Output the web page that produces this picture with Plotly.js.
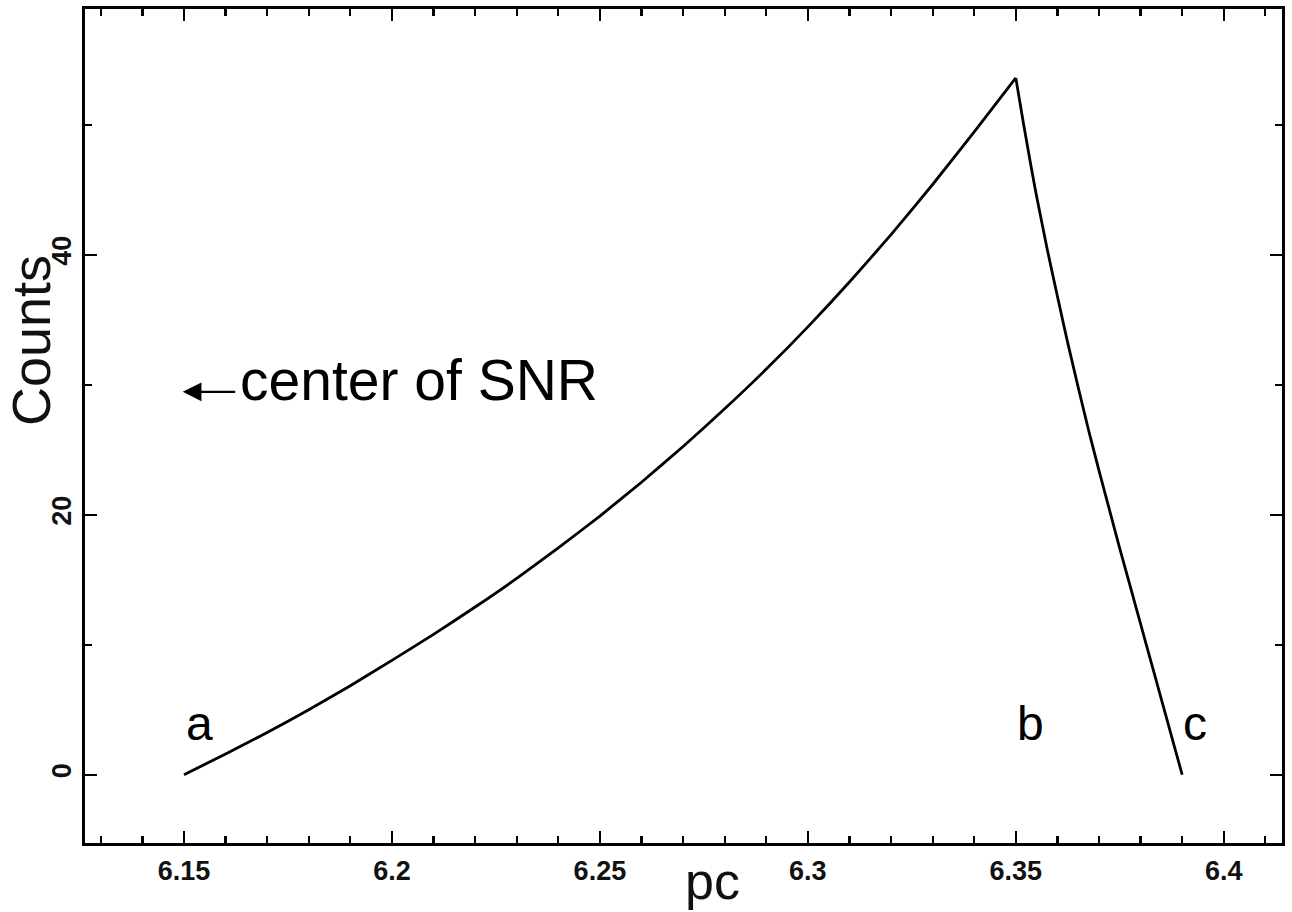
<!DOCTYPE html>
<html>
<head>
<meta charset="utf-8">
<script src="https://cdn.plot.ly/plotly-3.0.1.min.js"></script>
<style>html,body{margin:0;padding:0;background:#fff;}#chart{width:1292px;height:912px;}</style>
</head>
<body>
<div id="chart"></div>
<script>
// Profile data: rising part (a -> b) and falling part (b -> c)
const risePc = [6.15, 6.16, 6.17, 6.18, 6.19, 6.20, 6.21, 6.22, 6.23, 6.24, 6.25,
                6.26, 6.27, 6.28, 6.29, 6.30, 6.31, 6.32, 6.33, 6.34, 6.35];
const riseCounts = [0, 1.6, 3.25, 5.0, 6.85, 8.8, 10.8, 12.9, 15.1, 17.45, 19.9,
                    22.5, 25.25, 28.15, 31.2, 34.45, 37.9, 41.55, 45.4, 49.45, 53.6];
const fallPc = [6.35, 6.351, 6.352, 6.353, 6.354, 6.355, 6.3575, 6.36, 6.3625, 6.365,
                6.3675, 6.37, 6.3725, 6.375, 6.3775, 6.38, 6.3825, 6.385, 6.3875, 6.39];
const fallCounts = [53.6, 51.7, 49.8, 48.0, 46.2, 44.5, 40.5, 36.8, 33.2, 29.8,
                    26.5, 23.4, 20.4, 17.4, 14.5, 11.6, 8.7, 5.8, 2.9, 0];
const pointLabels = ['a', 'b', 'c'];
const pointLabelX = [6.1538, 6.3536, 6.3930];
const pointLabelY = [3.95, 3.95, 3.95];
const noteText = 'center of SNR';
const xTitle = 'pc';
const yTitle = 'Counts';

const FONT = 'Liberation Sans, Arial, Helvetica, sans-serif';

const lineStyle = {color: '#000', width: 2.8, shape: 'spline', smoothing: 0.5};
const traces = [
  {x: risePc, y: riseCounts, type: 'scatter', mode: 'lines', line: lineStyle, hoverinfo: 'skip'},
  {x: fallPc, y: fallCounts, type: 'scatter', mode: 'lines', line: lineStyle, hoverinfo: 'skip'}
];

const annotations = [];
for (let i = 0; i < pointLabels.length; i++) {
  annotations.push({
    x: pointLabelX[i], y: pointLabelY[i], xref: 'x', yref: 'y',
    text: pointLabels[i], showarrow: false,
    xanchor: 'center', yanchor: 'middle',
    font: {family: FONT, size: 48, color: '#000'}
  });
}
annotations.push({
  x: 6.163, y: 30.4, xref: 'x', yref: 'y', text: noteText, showarrow: false,
  xanchor: 'left', yanchor: 'middle',
  font: {family: FONT, size: 57, color: '#000'}
});
annotations.push({
  x: 6.1497, y: 29.45, xref: 'x', yref: 'y', text: '', showarrow: true,
  ax: 54, ay: 0, axref: 'pixel', ayref: 'pixel',
  arrowhead: 2, arrowsize: 1.7, arrowwidth: 2.2, arrowcolor: '#000', standoff: 0
});
annotations.push({
  x: -0.045, y: 0.602, xref: 'paper', yref: 'paper', text: yTitle, showarrow: false,
  textangle: -90, xanchor: 'center', yanchor: 'middle',
  font: {family: FONT, size: 54, color: '#111'}
});
annotations.push({
  x: 0.5246, y: -0.0456, xref: 'paper', yref: 'paper', text: xTitle, showarrow: false,
  xanchor: 'center', yanchor: 'middle',
  font: {family: FONT, size: 52, color: '#111'}
});

const layout = {
  width: 1292, height: 912,
  margin: {l: 85, r: 10, t: 9, b: 69, pad: 0},
  paper_bgcolor: '#fff', plot_bgcolor: '#fff',
  showlegend: false,
  xaxis: {
    range: [6.1262, 6.414], tick0: 6.15, dtick: 0.05,
    ticks: 'inside', ticklen: 12, tickwidth: 2.2, tickcolor: '#000',
    showline: true, linewidth: 3, linecolor: '#000', mirror: 'ticks',
    showgrid: false, zeroline: false,
    minor: {dtick: 0.01, tick0: 6.15, ticks: 'inside', ticklen: 7, tickwidth: 2.2, tickcolor: '#000', showgrid: false},
    tickfont: {family: FONT, size: 27, color: '#111', weight: 'bold'},
    ticklabelstandoff: 2
  },
  yaxis: {
    range: [-5.25, 58.9], tick0: 0, dtick: 20,
    ticks: 'inside', ticklen: 12, tickwidth: 2.2, tickcolor: '#000',
    showline: true, linewidth: 3, linecolor: '#000', mirror: 'ticks',
    showgrid: false, zeroline: false, tickangle: -90,
    minor: {dtick: 10, tick0: 0, ticks: 'inside', ticklen: 7, tickwidth: 2.2, tickcolor: '#000', showgrid: false},
    tickfont: {family: FONT, size: 27, color: '#111', weight: 'bold'},
    ticklabelstandoff: 0
  },
  annotations: annotations
};

Plotly.newPlot('chart', traces, layout, {displayModeBar: false, staticPlot: true});
</script>
</body>
</html>
